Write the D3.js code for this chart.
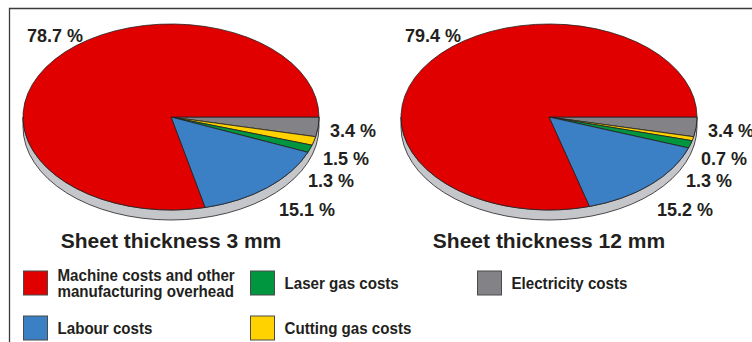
<!DOCTYPE html>
<html>
<head>
<meta charset="utf-8">
<script src="https://cdn.jsdelivr.net/npm/d3@7"></script>
<style>
  html, body { margin: 0; padding: 0; background: #fff; }
  svg { display: block; }
  text { font-family: "Liberation Sans", Arial, Helvetica, sans-serif; font-weight: bold; fill: #231f20; }
</style>
</head>
<body>
<svg id="chart" width="752" height="342"></svg>
<script>
// Cost categories, in clockwise order starting at 3 o'clock
const categories = [
  "Electricity costs",
  "Cutting gas costs",
  "Laser gas costs",
  "Labour costs",
  "Machine costs and other manufacturing overhead"
];
// Share of part cost (%) per sheet thickness
const share3mm  = [3.4, 1.5, 1.3, 15.1, 78.7];
const share12mm = [3.4, 0.7, 1.3, 15.2, 79.4];
const chartTitles = ["Sheet thickness 3 mm", "Sheet thickness 12 mm"];

// Legend rows (category indices) and their multi-line captions
const legendRows = [[4, 2, 0], [3, 1]];
const legendCaptions = {
  4: ["Machine costs and other", "manufacturing overhead"]
};

const colors = ["#838287", "#ffd200", "#009640", "#3b7fc4", "#e10000"];
const sideColor = "#c5c6ca";
const ink = "#231f20";

const svg = d3.select("#chart");

// Frame along top and left edges
svg.append("path")
  .attr("d", "M9.5,342 L9.5,8.5 L752,8.5")
  .attr("fill", "none").attr("stroke", "#3a3a3a").attr("stroke-width", 1.3);

// Geometry of each tilted pie
const pieGeom = { rx: 148, ry: 93, depth: 10, cy: 117 };
const pieCenters = [171, 549];

// Label anchor offsets from the pie centre, one per slice
const labelOffsets = [
  [159, 20], [152, 48], [137, 70], [108, 99], [-144, -75]
];

const pie = d3.pie().sort(null).value(d => d)
  .startAngle(Math.PI / 2).endAngle(Math.PI / 2 + 2 * Math.PI);
const arc = d3.arc().innerRadius(0).outerRadius(pieGeom.rx);

function drawPie(values, cx, title) {
  const { rx, ry, depth, cy } = pieGeom;
  const g = svg.append("g");

  // Rim: lower half of the ellipse extruded downward
  g.append("path")
    .attr("d", `M${cx + rx},${cy} A${rx},${ry} 0 0 1 ${cx - rx},${cy} L${cx - rx},${cy + depth} A${rx},${ry} 0 0 0 ${cx + rx},${cy + depth} Z`)
    .attr("fill", sideColor).attr("stroke", ink).attr("stroke-width", 0.8);

  // Top face: circular slices squashed into an ellipse
  const face = g.append("g")
    .attr("transform", `translate(${cx},${cy}) scale(1,${ry / rx})`);
  face.selectAll("path")
    .data(pie(values))
    .join("path")
    .attr("d", arc)
    .attr("fill", (d, i) => colors[i])
    .attr("stroke", ink)
    .attr("stroke-width", 0.8)
    .attr("stroke-linejoin", "round")
    .attr("vector-effect", "non-scaling-stroke");

  // Value labels
  g.selectAll("text.val")
    .data(values)
    .join("text")
    .attr("class", "val")
    .attr("x", (d, i) => cx + labelOffsets[i][0])
    .attr("y", (d, i) => cy + labelOffsets[i][1])
    .style("font-size", "18px")
    .text(d => d.toFixed(1) + " %");

  // Title under the pie
  g.append("text")
    .attr("x", cx).attr("y", 248)
    .attr("text-anchor", "middle")
    .style("font-size", "21px")
    .text(title);
}

drawPie(share3mm, pieCenters[0], chartTitles[0]);
drawPie(share12mm, pieCenters[1], chartTitles[1]);

// Legend
const legendCols = [23.5, 250.5, 477.5];
const legendRowTop = [271, 316];
const swatch = 24;
const legend = svg.append("g");
legendRows.forEach((row, r) => {
  row.forEach((ci, c) => {
    const x = legendCols[c], y = legendRowTop[r];
    legend.append("rect")
      .attr("x", x).attr("y", y)
      .attr("width", swatch).attr("height", swatch)
      .attr("fill", colors[ci])
      .attr("stroke", "#4a4a4a").attr("stroke-width", 1);
    const lines = legendCaptions[ci] || [categories[ci]];
    const lineH = 17;
    const firstBase = y + swatch / 2 + 6 - (lines.length - 1) * lineH / 2;
    const t = legend.append("text")
      .attr("transform", `translate(${x + swatch + 10},${firstBase}) scale(0.89,1)`)
      .style("font-size", "17px");
    lines.forEach((ln, k) => {
      t.append("tspan")
        .attr("x", 0)
        .attr("dy", k === 0 ? 0 : lineH)
        .text(ln);
    });
  });
});
</script>
</body>
</html>
